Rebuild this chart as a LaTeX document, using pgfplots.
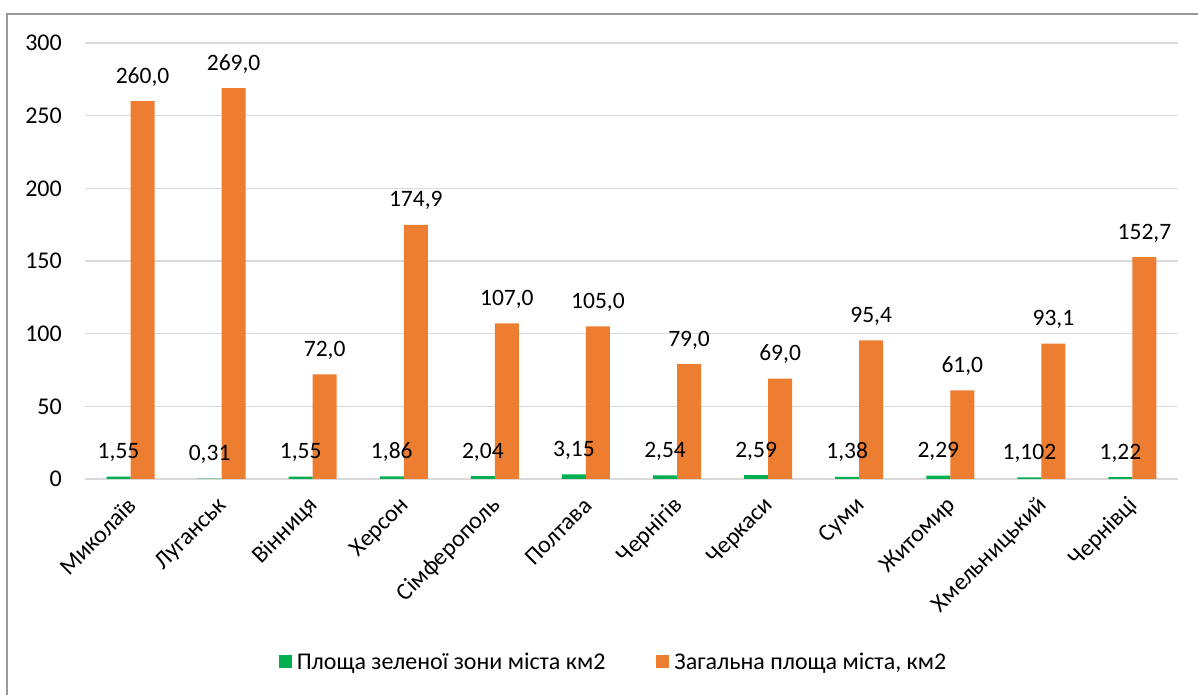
\documentclass[border=0pt]{standalone}
\usepackage{fontspec}
\setmainfont{Carlito}
\usepackage{pgfplots}
\usepackage{pgfplotstable}
\pgfplotsset{compat=1.18}
\definecolor{cgreen}{HTML}{00B050}
\definecolor{corange}{HTML}{ED7D31}
\definecolor{cgrid}{HTML}{D9D9D9}
\pgfplotstableread{
x g gl o ol
0 1.55 1,55 260.0 260,0
1 0.31 0,31 269.0 269,0
2 1.55 1,55 72.0 72,0
3 1.86 1,86 174.9 174,9
4 2.04 2,04 107.0 107,0
5 3.15 3,15 105.0 105,0
6 2.54 2,54 79.0 79,0
7 2.59 2,59 69.0 69,0
8 1.38 1,38 95.4 95,4
9 2.29 2,29 61.0 61,0
10 1.102 1,102 93.1 93,1
11 1.22 1,22 152.7 152,7
}\data
\begin{document}
\begin{tikzpicture}
\useasboundingbox (0,0) rectangle (1198pt,695pt);
\draw[color=black!40, line width=1.2pt] (7pt,0) -- (7pt,681pt) -- (1198pt,681pt);
\begin{axis}[
  at={(85pt,216pt)}, anchor=south west,
  width=1093pt, height=436pt, scale only axis,
  xmin=-0.5, xmax=11.5, ymin=0, ymax=300,
  ytick={0,50,...,300},
  xtick={0,...,11},
  xticklabels={Миколаїв,Луганськ,Вінниця,Херсон,Сімферополь,Полтава,Чернігів,Черкаси,Суми,Житомир,Хмельницький,Чернівці},
  /pgf/number format/assume math mode=true,
  axis line style={draw=none},
  major tick length=0pt,
  ymajorgrids, grid style={cgrid, line width=1.2pt},
  tick label style={font=\fontsize{24}{29}\selectfont},
  yticklabel style={anchor=east, inner sep=0pt, xshift=-23pt},
  xticklabel style={anchor=east, inner sep=0pt, xshift=2pt, yshift=-23pt, rotate=45},
  ybar, bar width=24pt,
  clip=false,
  point meta=explicit symbolic,
  nodes near coords,
  every node near coord/.append style={anchor=base, inner sep=0pt, yshift=18pt, font=\fontsize{23.5}{28}\selectfont, text=black},
  legend style={draw=none, at={(0.4826,-0.4197)}, anchor=center, legend columns=2,
    font=\fontsize{24}{29}\selectfont,
    nodes={inner sep=0pt},
    /tikz/every odd column/.append style={column sep=5pt},
    /tikz/every even column/.append style={column sep=51pt}},
  legend image code/.code={\fill[#1] (0pt,-6.5pt) rectangle (13pt,6.5pt);},
]
\addplot[fill=cgreen, draw=none, bar shift=-12pt] table[x=x, y=g, meta=gl] {\data};
\addlegendentry{Площа зеленої зони міста км2}
\addplot[fill=corange, draw=none, bar shift=12pt] table[x=x, y=o, meta=ol] {\data};
\addlegendentry{Загальна площа міста, км2}
\end{axis}
\end{tikzpicture}
\end{document}
